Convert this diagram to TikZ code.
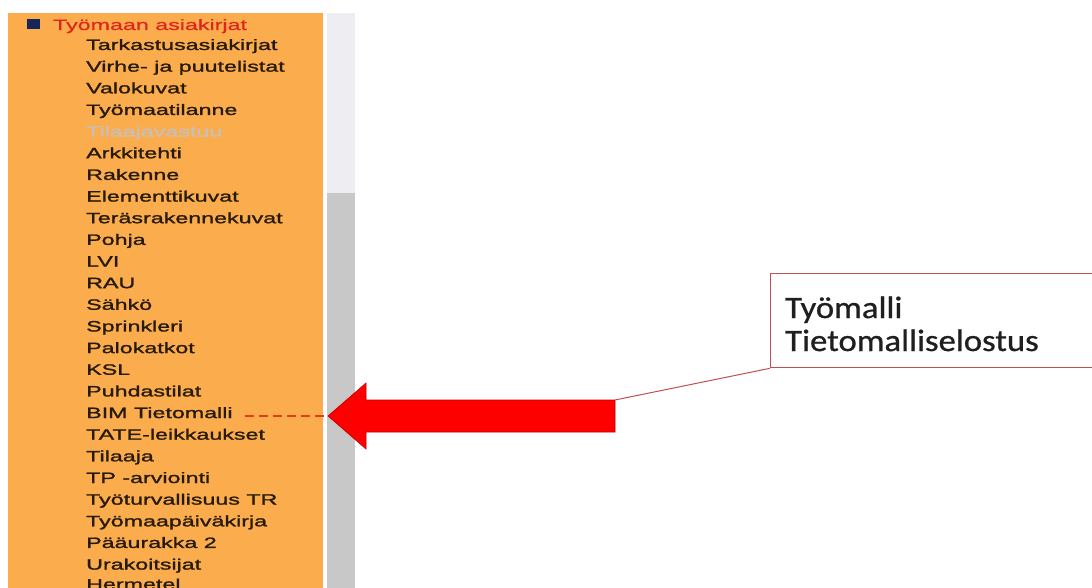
\documentclass[tikz,border=0pt]{standalone}
\usepackage{fontspec}
\newfontfamily\menufont{Liberation Sans}[FakeStretch=1.55,FakeBold=1.4]
\newfontfamily\headfont{Liberation Sans}[FakeStretch=1.55,FakeBold=0.6]
\newfontfamily\notefont{Carlito}[FakeStretch=1.12,FakeBold=0.8]

\definecolor{menuorange}{RGB}{251,172,77}
\definecolor{tracklight}{RGB}{238,238,242}
\definecolor{thumbgray}{RGB}{200,200,200}
\definecolor{headred}{RGB}{222,38,30}
\definecolor{itemtext}{RGB}{38,26,10}
\definecolor{itemgrey}{RGB}{200,192,184}
\definecolor{bulletblue}{RGB}{22,38,88}
\definecolor{noteline}{RGB}{192,80,77}
\definecolor{dashred}{RGB}{226,62,30}

\tikzset{
  menuitem/.style={anchor=base west,inner sep=0pt,text=itemtext,
    font=\menufont\fontsize{15}{18}\selectfont},
  menuhead/.style={menuitem,text=headred,font=\headfont\fontsize{15}{18}\selectfont},
  notetext/.style={anchor=base west,inner sep=0pt,text=black!88,
    font=\notefont\fontsize{31}{33}\selectfont},
  notebox/.style={draw=noteline,line width=1.3pt,fill=white,inner sep=0pt},
  bimdash/.style={draw=dashred,line width=1.4pt,dash pattern=on 9pt off 5pt}
}

\begin{document}
\begin{tikzpicture}[x=1pt,y=-1pt]
   \useasboundingbox[fill=white] (0,0) rectangle (1092,588);
   % menu panel and scroll bar
   \fill[menuorange] (8,13) rectangle (323,588);
   \fill[tracklight] (327,13) rectangle (355,588);
   \fill[thumbgray] (327,193) rectangle (355,588);
   \fill[bulletblue] (27,19) rectangle (40,29);
   \node[menuhead] (head) at (53,30) {Työmaan asiakirjat};
   \node[menuitem] (tark) at (86,50) {Tarkastusasiakirjat};
   \node[menuitem] (virhe) at (86,71.65) {Virhe- ja puutelistat};
   \node[menuitem] (valo) at (86,93.3) {Valokuvat};
   \node[menuitem] (tilanne) at (86,114.95) {Työmaatilanne};
   \node[menuitem,text=itemgrey] (vastuu) at (86,136.6) {Tilaajavastuu};
   \node[menuitem] (arkki) at (86,158.25) {Arkkitehti};
   \node[menuitem] (rakenne) at (86,179.9) {Rakenne};
   \node[menuitem] (elem) at (86,201.55) {Elementtikuvat};
   \node[menuitem] (teras) at (86,223.2) {Teräsrakennekuvat};
   \node[menuitem] (pohja) at (86,244.85) {Pohja};
   \node[menuitem] (lvi) at (86,266.5) {LVI};
   \node[menuitem] (rau) at (86,288.15) {RAU};
   \node[menuitem] (sahko) at (86,309.8) {Sähkö};
   \node[menuitem] (sprink) at (86,331.45) {Sprinkleri};
   \node[menuitem] (palo) at (86,353.1) {Palokatkot};
   \node[menuitem] (ksl) at (86,374.75) {KSL};
   \node[menuitem] (puhdas) at (86,396.4) {Puhdastilat};
   \node[menuitem] (bim) at (86,418.05) {BIM Tietomalli};
   \node[menuitem] (tate) at (86,439.7) {TATE-leikkaukset};
   \node[menuitem] (tilaaja) at (86,461.35) {Tilaaja};
   \node[menuitem] (tp) at (86,483) {TP -arviointi};
   \node[menuitem] (tyoturva) at (86,504.65) {Työturvallisuus TR};
   \node[menuitem] (paivak) at (86,526.3) {Työmaapäiväkirja};
   \node[menuitem] (paaur) at (86,547.95) {Pääurakka 2};
   \node[menuitem] (urak) at (86,569.6) {Urakoitsijat};
   \node[menuitem] (herm) at (86,589.5) {Hermetel};
   % big red arrow
   \coordinate (tip) at (328,416);
   \coordinate (shaftend) at (615,400);
   \filldraw[fill=red,draw=red!75!black,line width=0.6pt]
      (tip) -- (366,383) -- (366,400) -- (shaftend) -- (615,432)
      -- (366,432) -- (366,449) -- cycle;
   \draw[bimdash,shorten <=12pt] (bim.east |- tip) -- (tip);
   % callout
   \node[notebox,anchor=north west,minimum width=340pt,minimum height=94pt]
      (note) at (770,273) {};
   \node[notetext] (work) at (785,318) {Työmalli};
   \node[notetext] (desc) at (785,351) {Tietomalliselostus};
   \draw[noteline,line width=1pt] (note.south west) -- (shaftend);
\end{tikzpicture}
\end{document}
